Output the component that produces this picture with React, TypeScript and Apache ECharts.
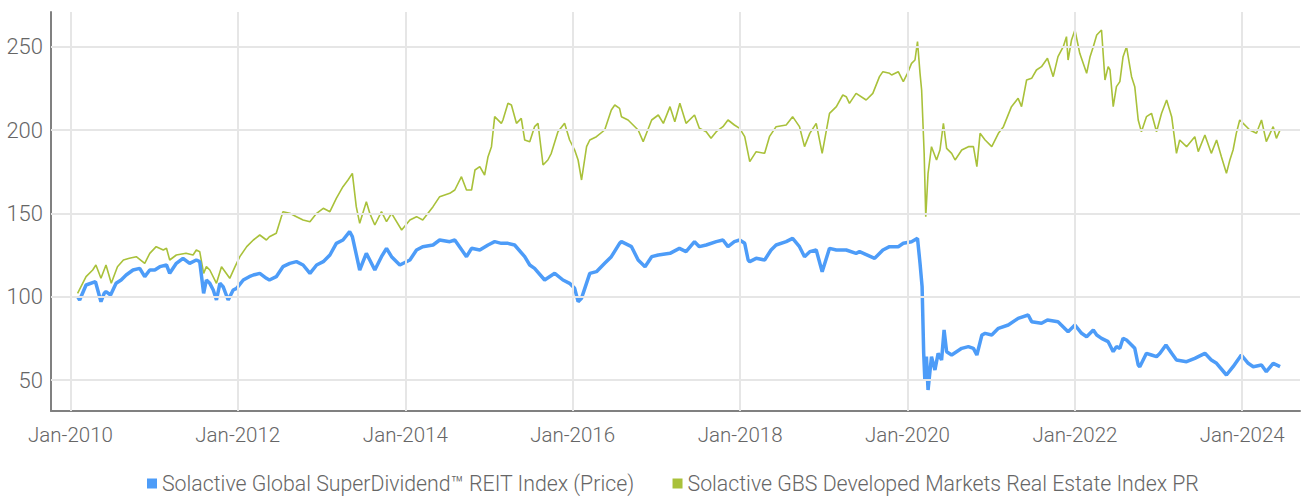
import React, { useEffect, useRef } from "react";
import * as echarts from "echarts";

const seriesNames = [
  "Solactive Global SuperDividend™ REIT Index (Price)",
  "Solactive GBS Developed Markets Real Estate Index PR",
];

const superDividendREIT: [string, number][] = [
  ["2010-02-01", 100], ["2010-02-10", 98], ["2010-03-10", 107], ["2010-04-20", 109], ["2010-05-14", 97],
  ["2010-05-28", 102], ["2010-06-05", 103], ["2010-06-25", 101], ["2010-07-19", 108], ["2010-08-10", 110],
  ["2010-09-01", 113], ["2010-10-01", 116], ["2010-10-30", 117], ["2010-11-21", 112], ["2010-12-13", 116],
  ["2011-01-04", 116], ["2011-01-26", 118], ["2011-02-24", 119], ["2011-03-10", 114], ["2011-04-08", 120],
  ["2011-05-07", 123], ["2011-06-05", 120], ["2011-07-04", 122], ["2011-07-19", 121], ["2011-08-05", 102],
  ["2011-08-17", 110], ["2011-09-01", 108], ["2011-09-16", 104], ["2011-09-30", 98], ["2011-10-15", 108],
  ["2011-10-29", 106], ["2011-11-20", 98], ["2011-12-12", 104], ["2011-12-27", 105], ["2012-01-25", 110],
  ["2012-02-20", 112], ["2012-03-09", 113], ["2012-04-06", 114], ["2012-05-05", 111], ["2012-05-18", 110],
  ["2012-06-17", 112], ["2012-07-16", 118], ["2012-08-15", 120], ["2012-09-13", 121], ["2012-10-12", 119],
  ["2012-11-11", 114], ["2012-12-10", 119], ["2013-01-08", 121], ["2013-02-06", 125], ["2013-03-06", 132],
  ["2013-04-04", 134], ["2013-05-03", 139], ["2013-05-15", 136], ["2013-06-16", 116], ["2013-07-15", 126],
  ["2013-07-30", 122], ["2013-08-21", 116], ["2013-09-19", 124], ["2013-10-11", 129], ["2013-11-02", 124],
  ["2013-12-08", 119], ["2014-01-21", 122], ["2014-02-19", 128], ["2014-03-18", 130], ["2014-05-02", 131],
  ["2014-05-31", 134], ["2014-07-14", 133], ["2014-08-05", 134], ["2014-09-25", 124], ["2014-10-17", 129],
  ["2014-11-22", 128], ["2014-12-28", 131], ["2015-01-26", 133], ["2015-02-24", 132], ["2015-03-25", 132],
  ["2015-04-23", 131], ["2015-06-06", 124], ["2015-06-28", 119], ["2015-07-19", 117], ["2015-09-01", 110],
  ["2015-10-15", 114], ["2015-11-20", 110], ["2015-12-19", 108], ["2016-01-10", 105], ["2016-01-25", 97],
  ["2016-02-09", 99], ["2016-02-16", 102], ["2016-03-16", 114], ["2016-04-14", 115], ["2016-05-20", 120],
  ["2016-06-18", 124], ["2016-07-24", 132], ["2016-08-01", 133], ["2016-09-14", 130], ["2016-10-13", 122],
  ["2016-11-12", 118], ["2016-12-11", 124], ["2017-01-09", 125], ["2017-03-01", 126], ["2017-04-11", 129],
  ["2017-05-10", 127], ["2017-06-16", 133], ["2017-07-07", 130], ["2017-08-06", 131], ["2017-09-19", 133],
  ["2017-10-18", 134], ["2017-11-09", 130], ["2017-12-07", 133], ["2017-12-30", 134], ["2018-01-21", 132],
  ["2018-02-05", 122], ["2018-02-12", 121], ["2018-03-12", 123], ["2018-04-18", 122], ["2018-05-16", 128],
  ["2018-06-07", 131], ["2018-07-21", 133], ["2018-08-18", 135], ["2018-09-17", 130], ["2018-10-09", 124],
  ["2018-11-01", 127], ["2018-11-29", 128], ["2018-12-25", 115], ["2019-01-26", 129], ["2019-02-25", 128],
  ["2019-04-09", 128], ["2019-05-22", 126], ["2019-06-06", 127], ["2019-08-11", 123], ["2019-09-16", 128],
  ["2019-10-15", 130], ["2019-11-22", 130], ["2019-12-14", 132], ["2020-01-19", 133], ["2020-02-14", 135],
  ["2020-02-25", 120], ["2020-03-05", 106], ["2020-03-12", 66], ["2020-03-17", 50], ["2020-03-24", 64],
  ["2020-03-31", 44], ["2020-04-15", 64], ["2020-04-30", 56], ["2020-05-14", 66], ["2020-05-29", 62],
  ["2020-06-09", 80], ["2020-06-20", 67], ["2020-07-12", 65], ["2020-08-25", 69], ["2020-09-23", 70],
  ["2020-10-15", 69], ["2020-10-30", 65], ["2020-11-21", 77], ["2020-12-05", 78], ["2021-01-03", 77],
  ["2021-02-01", 81], ["2021-03-16", 83], ["2021-04-28", 87], ["2021-06-11", 89], ["2021-06-26", 85],
  ["2021-08-08", 84], ["2021-09-03", 86], ["2021-10-19", 85], ["2021-12-02", 79], ["2022-01-01", 83],
  ["2022-01-30", 78], ["2022-02-21", 76], ["2022-03-22", 80], ["2022-04-06", 77], ["2022-04-27", 75],
  ["2022-05-26", 73], ["2022-06-17", 67], ["2022-07-01", 70], ["2022-07-16", 69], ["2022-07-30", 75],
  ["2022-08-14", 74], ["2022-09-05", 71], ["2022-09-19", 69], ["2022-10-04", 59], ["2022-10-11", 58],
  ["2022-11-09", 66], ["2022-12-01", 65], ["2022-12-23", 64], ["2023-01-07", 66], ["2023-02-02", 71],
  ["2023-02-27", 66], ["2023-03-20", 62], ["2023-05-03", 61], ["2023-06-08", 63], ["2023-07-22", 66],
  ["2023-08-19", 62], ["2023-09-11", 60], ["2023-10-24", 53], ["2023-11-22", 58], ["2023-12-28", 65],
  ["2024-01-27", 60], ["2024-02-18", 58], ["2024-03-25", 59], ["2024-04-15", 55], ["2024-05-15", 60],
  ["2024-06-14", 58],
];

const gbsDevelopedRealEstate: [string, number][] = [
  ["2010-02-01", 102], ["2010-03-10", 112], ["2010-04-08", 116], ["2010-04-22", 119], ["2010-05-14", 111],
  ["2010-06-05", 119], ["2010-06-28", 108], ["2010-07-25", 118], ["2010-08-20", 122], ["2010-09-15", 123],
  ["2010-10-15", 124], ["2010-11-21", 120], ["2010-12-13", 126], ["2011-01-10", 130], ["2011-02-10", 128],
  ["2011-02-24", 129], ["2011-03-10", 122], ["2011-04-08", 125], ["2011-05-20", 126], ["2011-06-20", 125],
  ["2011-07-04", 128], ["2011-07-19", 127], ["2011-08-05", 114], ["2011-08-17", 118], ["2011-09-01", 116],
  ["2011-09-30", 108], ["2011-10-22", 118], ["2011-11-27", 111], ["2011-12-20", 118], ["2012-01-10", 124],
  ["2012-02-09", 130], ["2012-03-09", 134], ["2012-04-06", 137], ["2012-05-05", 134], ["2012-05-18", 136],
  ["2012-06-17", 138], ["2012-07-16", 151], ["2012-08-15", 150], ["2012-09-13", 148], ["2012-10-12", 146],
  ["2012-11-11", 145], ["2012-12-10", 150], ["2013-01-08", 153], ["2013-02-06", 151], ["2013-03-06", 159],
  ["2013-04-04", 166], ["2013-04-26", 170], ["2013-05-15", 174], ["2013-06-01", 154], ["2013-06-16", 144],
  ["2013-07-15", 157], ["2013-07-30", 150], ["2013-08-21", 143], ["2013-09-19", 151], ["2013-10-11", 145],
  ["2013-11-02", 150], ["2013-12-16", 140], ["2014-01-21", 146], ["2014-02-19", 148], ["2014-03-18", 146],
  ["2014-05-02", 154], ["2014-05-31", 160], ["2014-07-14", 162], ["2014-08-05", 164], ["2014-09-03", 172],
  ["2014-09-25", 164], ["2014-10-17", 164], ["2014-11-01", 176], ["2014-11-22", 178], ["2014-12-13", 173],
  ["2014-12-28", 184], ["2015-01-12", 190], ["2015-01-26", 208], ["2015-02-24", 204], ["2015-03-03", 206],
  ["2015-03-25", 216], ["2015-04-09", 215], ["2015-05-01", 204], ["2015-05-22", 207], ["2015-06-06", 194],
  ["2015-06-28", 193], ["2015-07-19", 202], ["2015-08-03", 204], ["2015-08-25", 179], ["2015-09-15", 182],
  ["2015-09-30", 186], ["2015-10-29", 199], ["2015-11-27", 204], ["2015-12-19", 194], ["2016-01-10", 188],
  ["2016-01-25", 182], ["2016-02-09", 170], ["2016-03-02", 190], ["2016-03-16", 194], ["2016-04-14", 196],
  ["2016-05-20", 200], ["2016-06-18", 212], ["2016-07-03", 215], ["2016-07-24", 213], ["2016-08-01", 208],
  ["2016-08-30", 206], ["2016-10-13", 200], ["2016-11-04", 193], ["2016-12-11", 206], ["2017-01-09", 209],
  ["2017-01-31", 204], ["2017-03-01", 214], ["2017-03-22", 205], ["2017-04-13", 216], ["2017-05-10", 204],
  ["2017-06-16", 209], ["2017-07-07", 201], ["2017-08-06", 199], ["2017-08-27", 195], ["2017-09-19", 199],
  ["2017-10-18", 202], ["2017-11-09", 206], ["2017-12-07", 203], ["2017-12-30", 201], ["2018-01-21", 196],
  ["2018-02-12", 181], ["2018-03-12", 187], ["2018-04-18", 186], ["2018-05-09", 196], ["2018-06-07", 202],
  ["2018-07-21", 203], ["2018-08-18", 208], ["2018-09-17", 202], ["2018-10-09", 190], ["2018-11-01", 198],
  ["2018-11-29", 204], ["2018-12-25", 186], ["2019-01-26", 210], ["2019-02-25", 214], ["2019-03-25", 221],
  ["2019-04-09", 220], ["2019-04-23", 216], ["2019-05-22", 222], ["2019-07-05", 218], ["2019-08-03", 222],
  ["2019-09-01", 232], ["2019-09-16", 235], ["2019-10-15", 234], ["2019-10-24", 233], ["2019-11-22", 235],
  ["2019-12-14", 229], ["2020-01-01", 234], ["2020-01-19", 240], ["2020-02-03", 242], ["2020-02-14", 253],
  ["2020-02-25", 234], ["2020-03-03", 224], ["2020-03-14", 186], ["2020-03-21", 148], ["2020-03-31", 174],
  ["2020-04-15", 190], ["2020-05-07", 182], ["2020-05-22", 188], ["2020-06-06", 204], ["2020-06-20", 189],
  ["2020-07-12", 186], ["2020-07-27", 182], ["2020-08-25", 188], ["2020-09-23", 190], ["2020-10-15", 190],
  ["2020-10-30", 178], ["2020-11-13", 198], ["2020-12-05", 194], ["2021-01-03", 190], ["2021-02-01", 198],
  ["2021-02-23", 202], ["2021-03-30", 214], ["2021-04-28", 219], ["2021-05-13", 214], ["2021-06-04", 230],
  ["2021-06-26", 231], ["2021-07-17", 236], ["2021-08-08", 238], ["2021-09-03", 243], ["2021-09-28", 232],
  ["2021-10-19", 244], ["2021-11-11", 250], ["2021-11-25", 256], ["2021-12-02", 242], ["2021-12-17", 254],
  ["2022-01-01", 260], ["2022-01-22", 246], ["2022-02-21", 234], ["2022-03-08", 244], ["2022-03-22", 250],
  ["2022-04-06", 257], ["2022-04-27", 260], ["2022-05-12", 230], ["2022-05-26", 238], ["2022-06-03", 236],
  ["2022-06-17", 214], ["2022-07-01", 226], ["2022-07-16", 229], ["2022-07-30", 244], ["2022-08-14", 250],
  ["2022-09-05", 232], ["2022-09-19", 226], ["2022-10-04", 206], ["2022-10-18", 199], ["2022-11-09", 208],
  ["2022-12-01", 210], ["2022-12-23", 199], ["2023-01-14", 210], ["2023-02-05", 218], ["2023-02-27", 208],
  ["2023-03-20", 186], ["2023-04-03", 194], ["2023-05-03", 190], ["2023-06-08", 196], ["2023-06-23", 187],
  ["2023-07-22", 197], ["2023-08-19", 186], ["2023-09-11", 194], ["2023-10-02", 184], ["2023-10-24", 174],
  ["2023-11-08", 182], ["2023-11-22", 188], ["2023-12-06", 198], ["2023-12-21", 206], ["2024-01-05", 204],
  ["2024-02-03", 200], ["2024-03-03", 198], ["2024-03-25", 206], ["2024-04-15", 193], ["2024-05-15", 202],
  ["2024-05-29", 195], ["2024-06-14", 200],
];

const yTickValues = [50, 100, 150, 200, 250];
const xTickYears = [2010, 2012, 2014, 2016, 2018, 2020, 2022, 2024];

const FONT = "Roboto, 'Noto Sans', sans-serif";
const BLUE = "#4d9cf8";
const GREEN = "#a9c13a";
const GRID = "#e6e6e6";
const TEXT = "#666666";

const ts = (y: number, m: number, d: number) => Date.UTC(y, m - 1, d);
const parseDate = (s: string) => {
  const [y, m, d] = s.split("-").map(Number);
  return ts(y, m, d);
};
const toPoints = (rows: [string, number][]) => rows.map(([d, v]) => [parseDate(d), v]);

export default function App() {
  const ref = useRef<HTMLDivElement>(null);
  useEffect(() => {
    if (!ref.current) return;
    const chart = echarts.init(ref.current, undefined, { renderer: "svg" });
    const xTicks = xTickYears.map((y) => ts(y, 1, 1));
    chart.setOption({
      animation: false,
      backgroundColor: "#ffffff",
      grid: { left: 51, right: 4, top: 12, bottom: 85, containLabel: false },
      legend: {
        data: seriesNames,
        left: 142,
        top: 468,
        width: 1150,
        icon: "rect",
        itemWidth: 10,
        itemHeight: 10,
        itemGap: 38,
        textStyle: { fontFamily: FONT, fontSize: 21.3, fontWeight: 300, color: TEXT },
      },
      xAxis: {
        type: "value",
        min: ts(2009, 10, 8),
        max: ts(2024, 9, 9),
        axisLine: { show: true, lineStyle: { color: "#808080", width: 2 } },
        axisTick: { show: false },
        splitLine: { show: false },
        axisLabel: {
          customValues: xTicks,
          formatter: (v: number) => "Jan-" + new Date(v).getUTCFullYear(),
          fontFamily: FONT,
          fontSize: 20.5,
          fontWeight: 300,
          color: TEXT,
          margin: 13,
          hideOverlap: false,
        },
      },
      yAxis: {
        type: "value",
        min: 31.4,
        max: 270.8,
        axisLine: { show: true, lineStyle: { color: "#808080", width: 2 } },
        axisTick: { show: false },
        splitLine: { show: false },
        axisLabel: {
          customValues: yTickValues,
          fontFamily: FONT,
          fontSize: 22,
          fontWeight: 300,
          color: TEXT,
          margin: 8,
        },
      },
      series: [
        {
          type: "line",
          data: [],
          silent: true,
          z: 1,
          markLine: {
            silent: true,
            symbol: ["none", "none"],
            label: { show: false },
            lineStyle: { color: GRID, width: 2, type: "solid" },
            data: [
              ...yTickValues.map((v) => ({ yAxis: v })),
              ...xTicks.map((t) => ({ xAxis: t })),
            ],
          },
        },
        {
          name: seriesNames[0],
          type: "line",
          data: toPoints(superDividendREIT),
          showSymbol: false,
          z: 3,
          color: BLUE,
          lineStyle: { color: BLUE, width: 3.5 },
          itemStyle: { color: BLUE },
        },
        {
          name: seriesNames[1],
          type: "line",
          data: toPoints(gbsDevelopedRealEstate),
          showSymbol: false,
          z: 2,
          color: GREEN,
          lineStyle: { color: GREEN, width: 1.6 },
          itemStyle: { color: GREEN },
        },
      ],
    });
    return () => chart.dispose();
  }, []);
  return (
    <div
      ref={ref}
      style={{ position: "absolute", left: 0, top: 0, width: 1304, height: 496, background: "#fff" }}
    />
  );
}
